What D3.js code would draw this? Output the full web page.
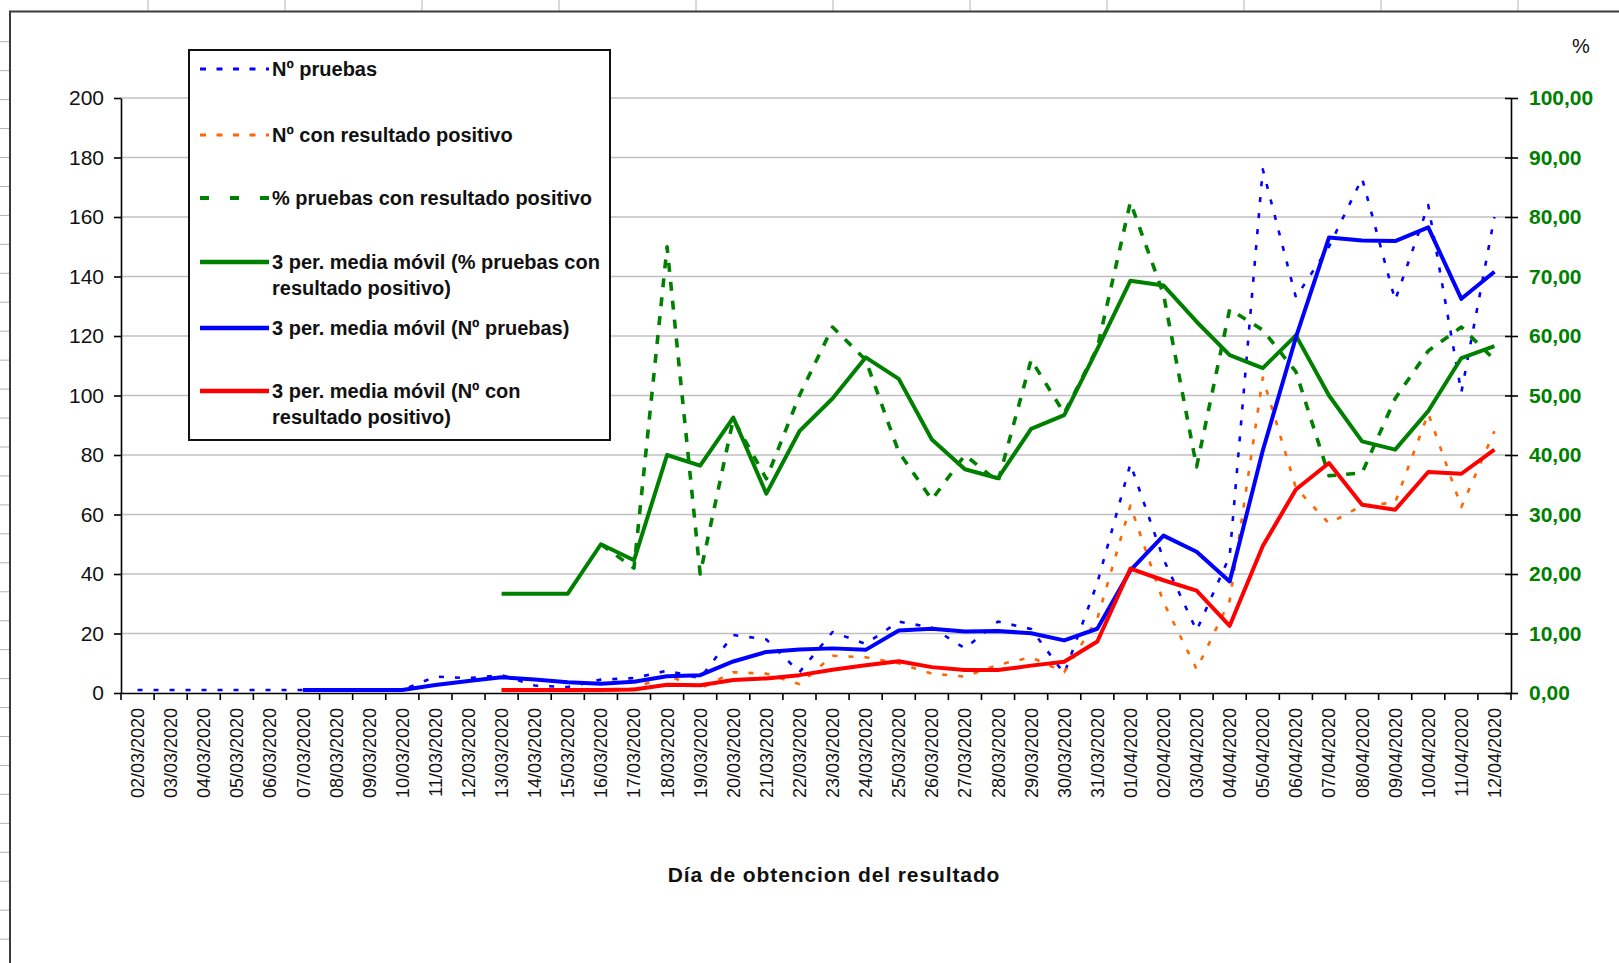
<!DOCTYPE html>
<html><head><meta charset="utf-8">
<script src="https://cdn.jsdelivr.net/npm/d3@7"></script>
<style>body{margin:0;background:#fff} svg{display:block}</style>
</head><body><svg id="c" width="1619" height="963"></svg>
<script>
// ---------- DATA ----------
const fechas = ["02/03/2020","03/03/2020","04/03/2020","05/03/2020","06/03/2020","07/03/2020","08/03/2020","09/03/2020","10/03/2020","11/03/2020","12/03/2020","13/03/2020","14/03/2020","15/03/2020","16/03/2020","17/03/2020","18/03/2020","19/03/2020","20/03/2020","21/03/2020","22/03/2020","23/03/2020","24/03/2020","25/03/2020","26/03/2020","27/03/2020","28/03/2020","29/03/2020","30/03/2020","31/03/2020","01/04/2020","02/04/2020","03/04/2020","04/04/2020","05/04/2020","06/04/2020","07/04/2020","08/04/2020","09/04/2020","10/04/2020","11/04/2020","12/04/2020"];
// Nº pruebas (left axis)
const pruebas = [1,1,1,1,1,1,1,1,1,5.5,5,6,2.5,2,4.5,5,7.5,5,19.5,18,7,20.5,16.5,24,22,15,24,21.5,6.5,37,77,45,21,46,176,133,150,173,132,164,101,160];
// Nº con resultado positivo (left axis)
const positivos = [null,null,null,null,null,null,null,null,null,null,null,1,1,1,1,1.5,6,1.5,7,6.5,3,12.5,12,10,6.5,5.5,9.5,12,7,25,63,30.5,8,31,106,69,57,63,64,94,62.5,88];
// % pruebas con resultado positivo (right axis)
const porcentaje = [null,null,null,null,null,null,null,null,null,null,null,null,null,null,25,21,75,20,46,36,50,61.5,56,40.5,32.5,40,35.5,56,47,58,82.5,67,38,64.5,61,54,36.5,37,49.5,57.5,61.5,56];
// 3 per. media móvil (% pruebas con resultado positivo) (right axis)
const mediaPct = [null,null,null,null,null,null,null,null,null,null,null,16.7,16.7,16.7,25,22.3,40,38.2,46.3,33.5,44,49.5,56.4,52.8,42.6,37.6,36.1,44.4,46.7,57.8,69.3,68.5,62.4,56.8,54.6,60.1,50,42.3,40.9,47.4,56.3,58.3];
// 3 per. media móvil (Nº pruebas) (left axis)
const mediaPruebas = [null,null,null,null,null,1,1,1,1,2.7,4,5.3,4.5,3.6,3.1,3.8,5.6,6,10.6,13.8,14.6,15,14.5,21,21.6,20.7,20.8,20.1,17.7,21.6,41.2,52.9,47.5,37.5,81.5,119.5,153.1,152.1,151.9,156.5,132.5,141.6];
// 3 per. media móvil (Nº con resultado positivo) (left axis)
const mediaPositivos = [null,null,null,null,null,null,null,null,null,null,null,1,1,1,1,1.2,2.8,2.6,4.4,4.9,6,7.8,9.3,10.7,8.7,7.7,7.7,9.2,10.5,17.3,41.8,37.9,34.4,22.6,49.4,68.4,77.3,63.3,61.6,74.3,73.7,81.8];
const leftTicks = [0,20,40,60,80,100,120,140,160,180,200];
const rightTicks = [0,10,20,30,40,50,60,70,80,90,100];
const leyenda = [
  ["Nº pruebas"],
  ["Nº con resultado positivo"],
  ["% pruebas con resultado positivo"],
  ["3 per. media móvil (% pruebas con","resultado positivo)"],
  ["3 per. media móvil (Nº pruebas)"],
  ["3 per. media móvil (Nº con","resultado positivo)"]
];
const tituloX = "Día de obtencion del resultado";

// ---------- CHART ----------
const FONT = '"Liberation Sans", Arial, sans-serif';
const svg = d3.select('#c');
const W = 1619, H = 963;
const m = {left:121, right:1511, top:98, bottom:693};

const x = d3.scaleBand().domain(fechas).range([m.left, m.right]).padding(0);
const cx = (d, i) => x(fechas[i]) + x.bandwidth()/2;
const yL = d3.scaleLinear().domain([0,200]).range([m.bottom, m.top]);
const yR = d3.scaleLinear().domain([0,100]).range([m.bottom, m.top]);

svg.append('rect').attr('width', W).attr('height', H).attr('fill', '#fff');

// sheet frame decorations
const deco = svg.append('g');
deco.selectAll('line.rt').data(d3.range(148, W, 137)).join('line')
  .attr('x1', d => d).attr('x2', d => d).attr('y1', 0).attr('y2', 11)
  .attr('stroke', '#b4b4b4').attr('stroke-width', 1);
deco.selectAll('line.lt').data(d3.range(41.7, H, 28.95)).join('line')
  .attr('x1', 0).attr('x2', 9).attr('y1', d => d).attr('y2', d => d)
  .attr('stroke', '#b4b4b4').attr('stroke-width', 1);
deco.append('line').attr('x1', 9).attr('x2', W).attr('y1', 11.5).attr('y2', 11.5).attr('stroke', '#3a3a3a').attr('stroke-width', 2);
deco.append('line').attr('x1', 10).attr('x2', 10).attr('y1', 11).attr('y2', H).attr('stroke', '#3a3a3a').attr('stroke-width', 2);

// gridlines
svg.append('g').selectAll('line').data(leftTicks.filter(d => d > 0)).join('line')
  .attr('x1', m.left).attr('x2', m.right)
  .attr('y1', d => yL(d)).attr('y2', d => yL(d))
  .attr('stroke', '#c0c0c0').attr('stroke-width', 1.6);

// left axis
const gL = svg.append('g').attr('transform', `translate(${m.left},0)`)
  .call(d3.axisLeft(yL).tickValues(leftTicks).tickSize(7).tickSizeOuter(0).tickPadding(10));
gL.attr('font-family', FONT).attr('font-size', 21);
gL.select('.domain').attr('stroke', '#000').attr('stroke-width', 1.6);
gL.selectAll('.tick line').attr('stroke', '#000').attr('stroke-width', 1.6);
gL.selectAll('.tick text').attr('fill', '#111');

// right axis
const gR = svg.append('g').attr('transform', `translate(${m.right},0)`)
  .call(d3.axisRight(yR).tickValues(rightTicks).tickSize(7).tickSizeOuter(0).tickPadding(11)
    .tickFormat(d => d3.format('.2f')(d).replace('.', ',')));
gR.attr('font-family', FONT).attr('font-size', 21).attr('font-weight', 'bold');
gR.select('.domain').attr('stroke', '#000').attr('stroke-width', 1.6);
gR.selectAll('.tick line').attr('x1', -6).attr('stroke', '#000').attr('stroke-width', 1.6);
gR.selectAll('.tick text').attr('fill', '#008000');

// bottom axis
const gB = svg.append('g').attr('transform', `translate(0,${m.bottom})`)
  .call(d3.axisBottom(x).tickSize(0).tickSizeOuter(0));
gB.attr('font-family', FONT).attr('font-size', 18);
gB.select('.domain').attr('stroke', '#000').attr('stroke-width', 1.6);
gB.selectAll('.tick text')
  .attr('fill', '#111')
  .attr('transform', 'rotate(-90)')
  .attr('x', -15).attr('y', 0).attr('dy', '0.36em')
  .attr('text-anchor', 'end');
gB.selectAll('line.b').data(fechas.map(d => x(d)).concat([m.right])).join('line')
  .attr('class', 'b')
  .attr('x1', d => d).attr('x2', d => d).attr('y1', 0).attr('y2', 7)
  .attr('stroke', '#000').attr('stroke-width', 1.6);

// series
const lineL = d3.line().defined(d => d != null).x((d, i) => cx(d, i)).y(d => yL(d));
const lineR = d3.line().defined(d => d != null).x((d, i) => cx(d, i)).y(d => yR(d));
const series = [
  {data: pruebas, gen: lineL, color: '#0000ff', w: 2.6, dash: '5,11'},
  {data: positivos, gen: lineL, color: '#ff6600', w: 2.6, dash: '5,11'},
  {data: porcentaje, gen: lineR, color: '#008000', w: 3.6, dash: '9,10'},
  {data: mediaPct, gen: lineR, color: '#008000', w: 4, dash: null},
  {data: mediaPruebas, gen: lineL, color: '#0000ff', w: 4, dash: null},
  {data: mediaPositivos, gen: lineL, color: '#ff0000', w: 4, dash: null}
];
const gS = svg.append('g');
series.forEach(s => {
  gS.append('path').attr('d', s.gen(s.data))
    .attr('fill', 'none').attr('stroke', s.color).attr('stroke-width', s.w)
    .attr('stroke-linejoin', 'round')
    .attr('stroke-dasharray', s.dash);
});

// legend
const lg = svg.append('g').attr('font-family', FONT).attr('font-size', 20).attr('font-weight', 'bold');
lg.append('rect').attr('x', 189).attr('y', 50).attr('width', 421).attr('height', 390)
  .attr('fill', '#fff').attr('stroke', '#111').attr('stroke-width', 2);
const legY = [69, 135, 198, 262, 328, 391];
const legStyle = [
  {color: '#0000ff', w: 3, dash: '6,10.5'},
  {color: '#ff6600', w: 3, dash: '6,10.5'},
  {color: '#008000', w: 4, dash: '9,21'},
  {color: '#008000', w: 4.5, dash: null},
  {color: '#0000ff', w: 4.5, dash: null},
  {color: '#ff0000', w: 4.5, dash: null}
];
leyenda.forEach((lines, i) => {
  const y = legY[i];
  lg.append('line').attr('x1', 200).attr('x2', 269).attr('y1', y).attr('y2', y)
    .attr('stroke', legStyle[i].color).attr('stroke-width', legStyle[i].w)
    .attr('stroke-dasharray', legStyle[i].dash);
  lines.forEach((t, j) => {
    lg.append('text').attr('x', 272).attr('y', y + j * 26).attr('dy', '0.36em')
      .attr('fill', '#111').text(t);
  });
});

// titles
svg.append('text').attr('x', 834).attr('y', 882).attr('text-anchor', 'middle')
  .attr('font-family', FONT).attr('font-size', 21).attr('font-weight', 'bold')
  .attr('letter-spacing', 0.9).attr('fill', '#111').text(tituloX);
svg.append('text').attr('x', 1581).attr('y', 53).attr('text-anchor', 'middle')
  .attr('font-family', FONT).attr('font-size', 20).attr('fill', '#111').text('%');
</script>
</body></html>
